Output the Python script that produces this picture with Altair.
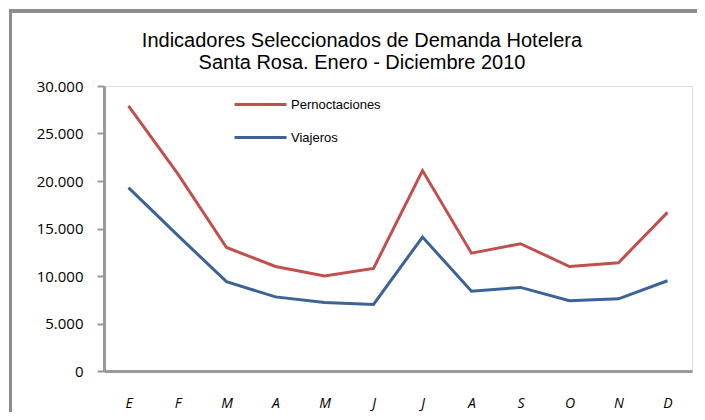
import altair as alt
import pandas as pd

meses = ["E", "F", "M", "A", "M", "J", "J", "A", "S", "O", "N", "D"]
pernoctaciones = [27900, 20800, 13000, 11000, 10000, 10800, 21100, 12400, 13400, 11000, 11400, 16700]
viajeros = [19300, 14300, 9400, 7800, 7200, 7000, 14100, 8400, 8800, 7400, 7600, 9500]
series = ["Pernoctaciones", "Viajeros"]
colores = ["#C0504D", "#3B6396"]
titulo = ["Indicadores Seleccionados de Demanda Hotelera", "Santa Rosa. Enero - Diciembre 2010"]
y_ticks = [0, 5000, 10000, 15000, 20000, 25000, 30000]

rows = []
for i in range(len(meses)):
    rows.append({"idx": i, "serie": series[0], "valor": pernoctaciones[i]})
    rows.append({"idx": i, "serie": series[1], "valor": viajeros[i]})
df = pd.DataFrame(rows)

label_arr = "[" + ",".join("'" + m + "'" for m in meses) + "]"

lines = alt.Chart(df).mark_line(strokeWidth=3, clip=False).encode(
    x=alt.X("idx:O", scale=alt.Scale(type="point", padding=0.5),
            axis=alt.Axis(title=None, labelExpr=label_arr + "[datum.value]",
                          ticks=False, labelAngle=0, labelPadding=25,
                          labelFont="Open Sans", labelFontSize=14, labelFontStyle="italic",
                          labelColor="#000000", domainColor="#999999", domainWidth=3)),
    y=alt.Y("valor:Q", scale=alt.Scale(domain=[0, 30000], nice=False),
            axis=alt.Axis(title=None, values=y_ticks, grid=False,
                          labelExpr="replace(format(datum.value, ',.0f'), ',', '.')",
                          labelFont="Open Sans", labelFontSize=15, labelColor="#000000",
                          labelPadding=14, tickSize=7, tickWidth=2, tickColor="#999999",
                          domainColor="#999999", domainWidth=3)),
    color=alt.Color("serie:N", scale=alt.Scale(domain=series, range=colores),
                    legend=alt.Legend(title=None, orient="none", legendX=129, legendY=12,
                                      symbolType="stroke", symbolSize=2704, symbolStrokeWidth=3,
                                      labelFont="Liberation Sans", labelFontSize=13,
                                      labelColor="#000000", labelOffset=3, rowPadding=19,
                                      clipHeight=13)),
    detail="serie:N",
)

frame_top = alt.Chart(df).mark_rule(color="#8c8c8c", strokeWidth=3).encode(
    x=alt.value(-95), x2=alt.value(700), y=alt.value(-75)
)
frame_left = alt.Chart(df).mark_rule(color="#8c8c8c", strokeWidth=3).encode(
    x=alt.value(-93.5), y=alt.value(-76), y2=alt.value(400)
)

chart = alt.layer(frame_top, frame_left, lines).properties(
    width=588, height=285,
    padding={"left": 96, "top": 78, "right": 5, "bottom": 41},
    autosize=alt.AutoSizeParams(type="none"),
    title=alt.TitleParams(text=titulo, anchor="middle", frame="group", dx=-36, dy=76,
                          font="Liberation Sans", fontSize=20, fontWeight="normal",
                          color="#000000", lineHeight=22, offset=12),
).configure_view(stroke=None).configure(background="white")

chart.save("out.html", embed_options={"renderer": "svg", "actions": False})
